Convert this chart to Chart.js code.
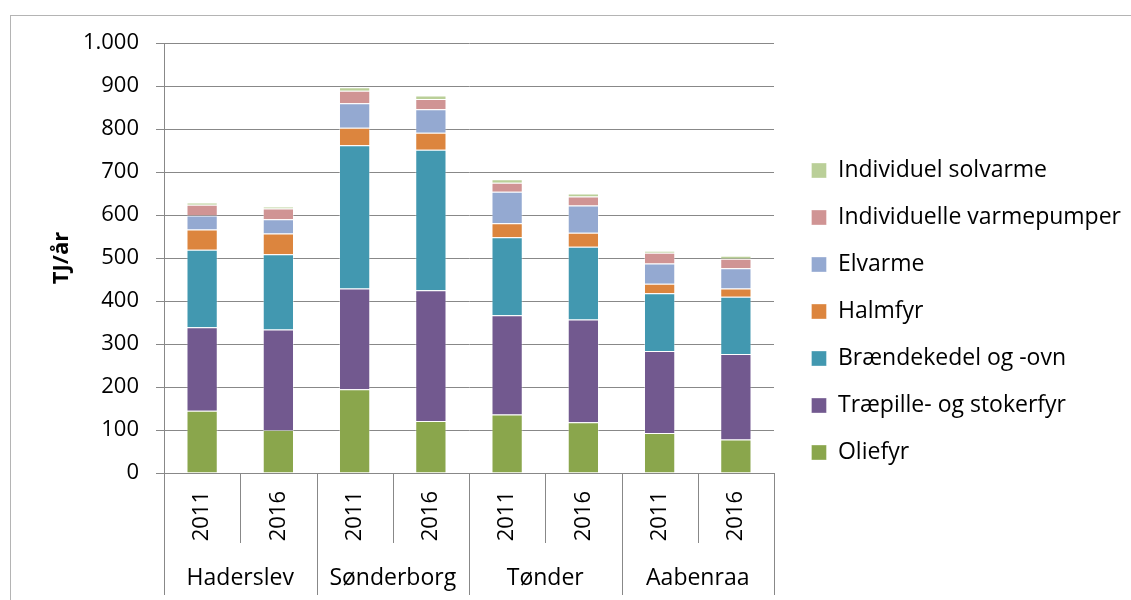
<!DOCTYPE html>
<html>
<head>
<meta charset="utf-8">
<script src="https://cdn.jsdelivr.net/npm/chart.js@4.4.1/dist/chart.umd.min.js"></script>
<style>
  html, body { margin: 0; padding: 0; background: #fff; }
  #wrap { position: relative; width: 1131px; height: 600px; overflow: hidden; }
  #frame { position: absolute; left: 10px; top: 15px; width: 1200px; height: 700px; border: 1px solid #b4b4b4; }
  canvas { position: absolute; left: 0; top: 0; }
</style>
</head>
<body>
<div id="wrap">
  <div id="frame"></div>
  <canvas id="chart" width="1131" height="600"></canvas>
</div>
<script>
const years = ["2011", "2016", "2011", "2016", "2011", "2016", "2011", "2016"];
const groups = ["Haderslev", "Sønderborg", "Tønder", "Aabenraa"];

const oliefyr = [145, 100, 195, 121, 136, 118, 93, 78];
const traepille = [194, 234, 234, 304, 231, 239, 191, 199];
const braende = [180, 175, 333, 327, 181, 169, 134, 133];
const halmfyr = [47, 48, 41, 39, 33, 33, 22, 19];
const elvarme = [33, 33, 57, 55, 73, 63, 47, 47];
const varmepumper = [25, 25, 29, 24, 21, 21, 25, 22];
const solvarme = [5, 5, 8, 8, 8, 7, 5, 7];

const FONT = "Open Sans";
const gridColor = "#888888";

// lines between the categories, long ones between the groups
const dividers = {
  id: "dividers",
  afterDraw(chart) {
    const x = chart.scales.x;
    const ctx = chart.ctx;
    const top = chart.chartArea.bottom;
    const n = x.ticks.length;
    ctx.save();
    ctx.strokeStyle = gridColor;
    ctx.lineWidth = 1;
    for (let i = 0; i <= n; i++) {
      let px;
      if (i === 0) px = x.left;
      else if (i === n) px = x.right;
      else px = (x.getPixelForTick(i - 1) + x.getPixelForTick(i)) / 2;
      const bottom = i % 2 === 0 ? 595 : 543;
      ctx.beginPath();
      ctx.moveTo(Math.round(px) + 0.5, top);
      ctx.lineTo(Math.round(px) + 0.5, bottom);
      ctx.stroke();
    }
    ctx.restore();
  }
};

const ctx = document.getElementById("chart").getContext("2d");

// room on the right so the legend sits where it should
ctx.font = "23px " + FONT;
const longest = ctx.measureText("Individuelle varmepumper").width;
const legendWidth = 24 + 15 + 11.5 + longest + 10;
const padRight = Math.max(0, 1131 - 789 - legendWidth);
// gap between plot and legend, what is left of 357px after the legend
const gapRight = Math.max(0, 1131 - 774 - padRight - legendWidth);

const mk = (label, data, color) => ({
  label: label,
  data: data,
  backgroundColor: color,
  borderColor: "rgba(255,255,255,0.35)",
  borderWidth: 1,
  categoryPercentage: 1,
  barPercentage: 0.41,
});

new Chart(ctx, {
  type: "bar",
  data: {
    labels: years,
    datasets: [
      mk("Oliefyr", oliefyr, "#8aa64c"),
      mk("Træpille- og stokerfyr", traepille, "#72598f"),
      mk("Brændekedel og -ovn", braende, "#4298b0"),
      mk("Halmfyr", halmfyr, "#dc853e"),
      mk("Elvarme", elvarme, "#94a9d1"),
      mk("Individuelle varmepumper", varmepumper, "#d09494"),
      mk("Individuel solvarme", solvarme, "#bacf98"),
    ],
  },
  options: {
    responsive: false,
    animation: false,
    layout: {
      padding: { left: 0, right: padRight, top: 23, bottom: 0 },
    },
    scales: {
      x: {
        stacked: true,
        grid: { display: false, drawTicks: false },
        border: { display: false },
        ticks: {
          color: "#000",
          font: { family: FONT, size: 22 },
          minRotation: 90,
          maxRotation: 90,
          padding: 18,
        },
        afterFit: (s) => { s.height = 75; },
      },
      x2: {
        type: "category",
        labels: groups,
        position: "bottom",
        grid: { display: false, drawTicks: false },
        border: { display: false },
        ticks: {
          color: "#000",
          font: { family: FONT, size: 23 },
          maxRotation: 0,
          padding: 17,
        },
        afterFit: (s) => { s.height = 52; },
      },
      y: {
        stacked: true,
        min: 0,
        max: 1000,
        ticks: {
          stepSize: 100,
          color: "#000",
          font: { family: FONT, size: 22 },
          padding: 17,
          callback: (v) => String(v).replace(/\B(?=(\d{3})+(?!\d))/g, "."),
        },
        grid: { color: gridColor, lineWidth: 1, tickLength: 8 },
        border: { color: gridColor, width: 1 },
        title: {
          display: true,
          text: "TJ/år",
          color: "#000",
          font: { family: FONT, size: 22, weight: "bold" },
          padding: { top: 49, bottom: 0 },
        },
        afterFit: (s) => { s.width = 164; s.paddingTop = 43; },
      },
      yR: {
        type: "linear",
        position: "right",
        grid: { display: false, drawTicks: false },
        border: { display: false },
        ticks: { display: false },
        afterFit: (s) => { s.width = gapRight; },
      },
    },
    plugins: {
      legend: {
        position: "right",
        align: "center",
        reverse: true,
        maxWidth: 420,
        labels: {
          color: "#000",
          font: { family: FONT, size: 23 },
          boxWidth: 15,
          boxHeight: 15,
          padding: 24,
        },
      },
      tooltip: { enabled: false },
    },
  },
  plugins: [dividers],
});
</script>
</body>
</html>
